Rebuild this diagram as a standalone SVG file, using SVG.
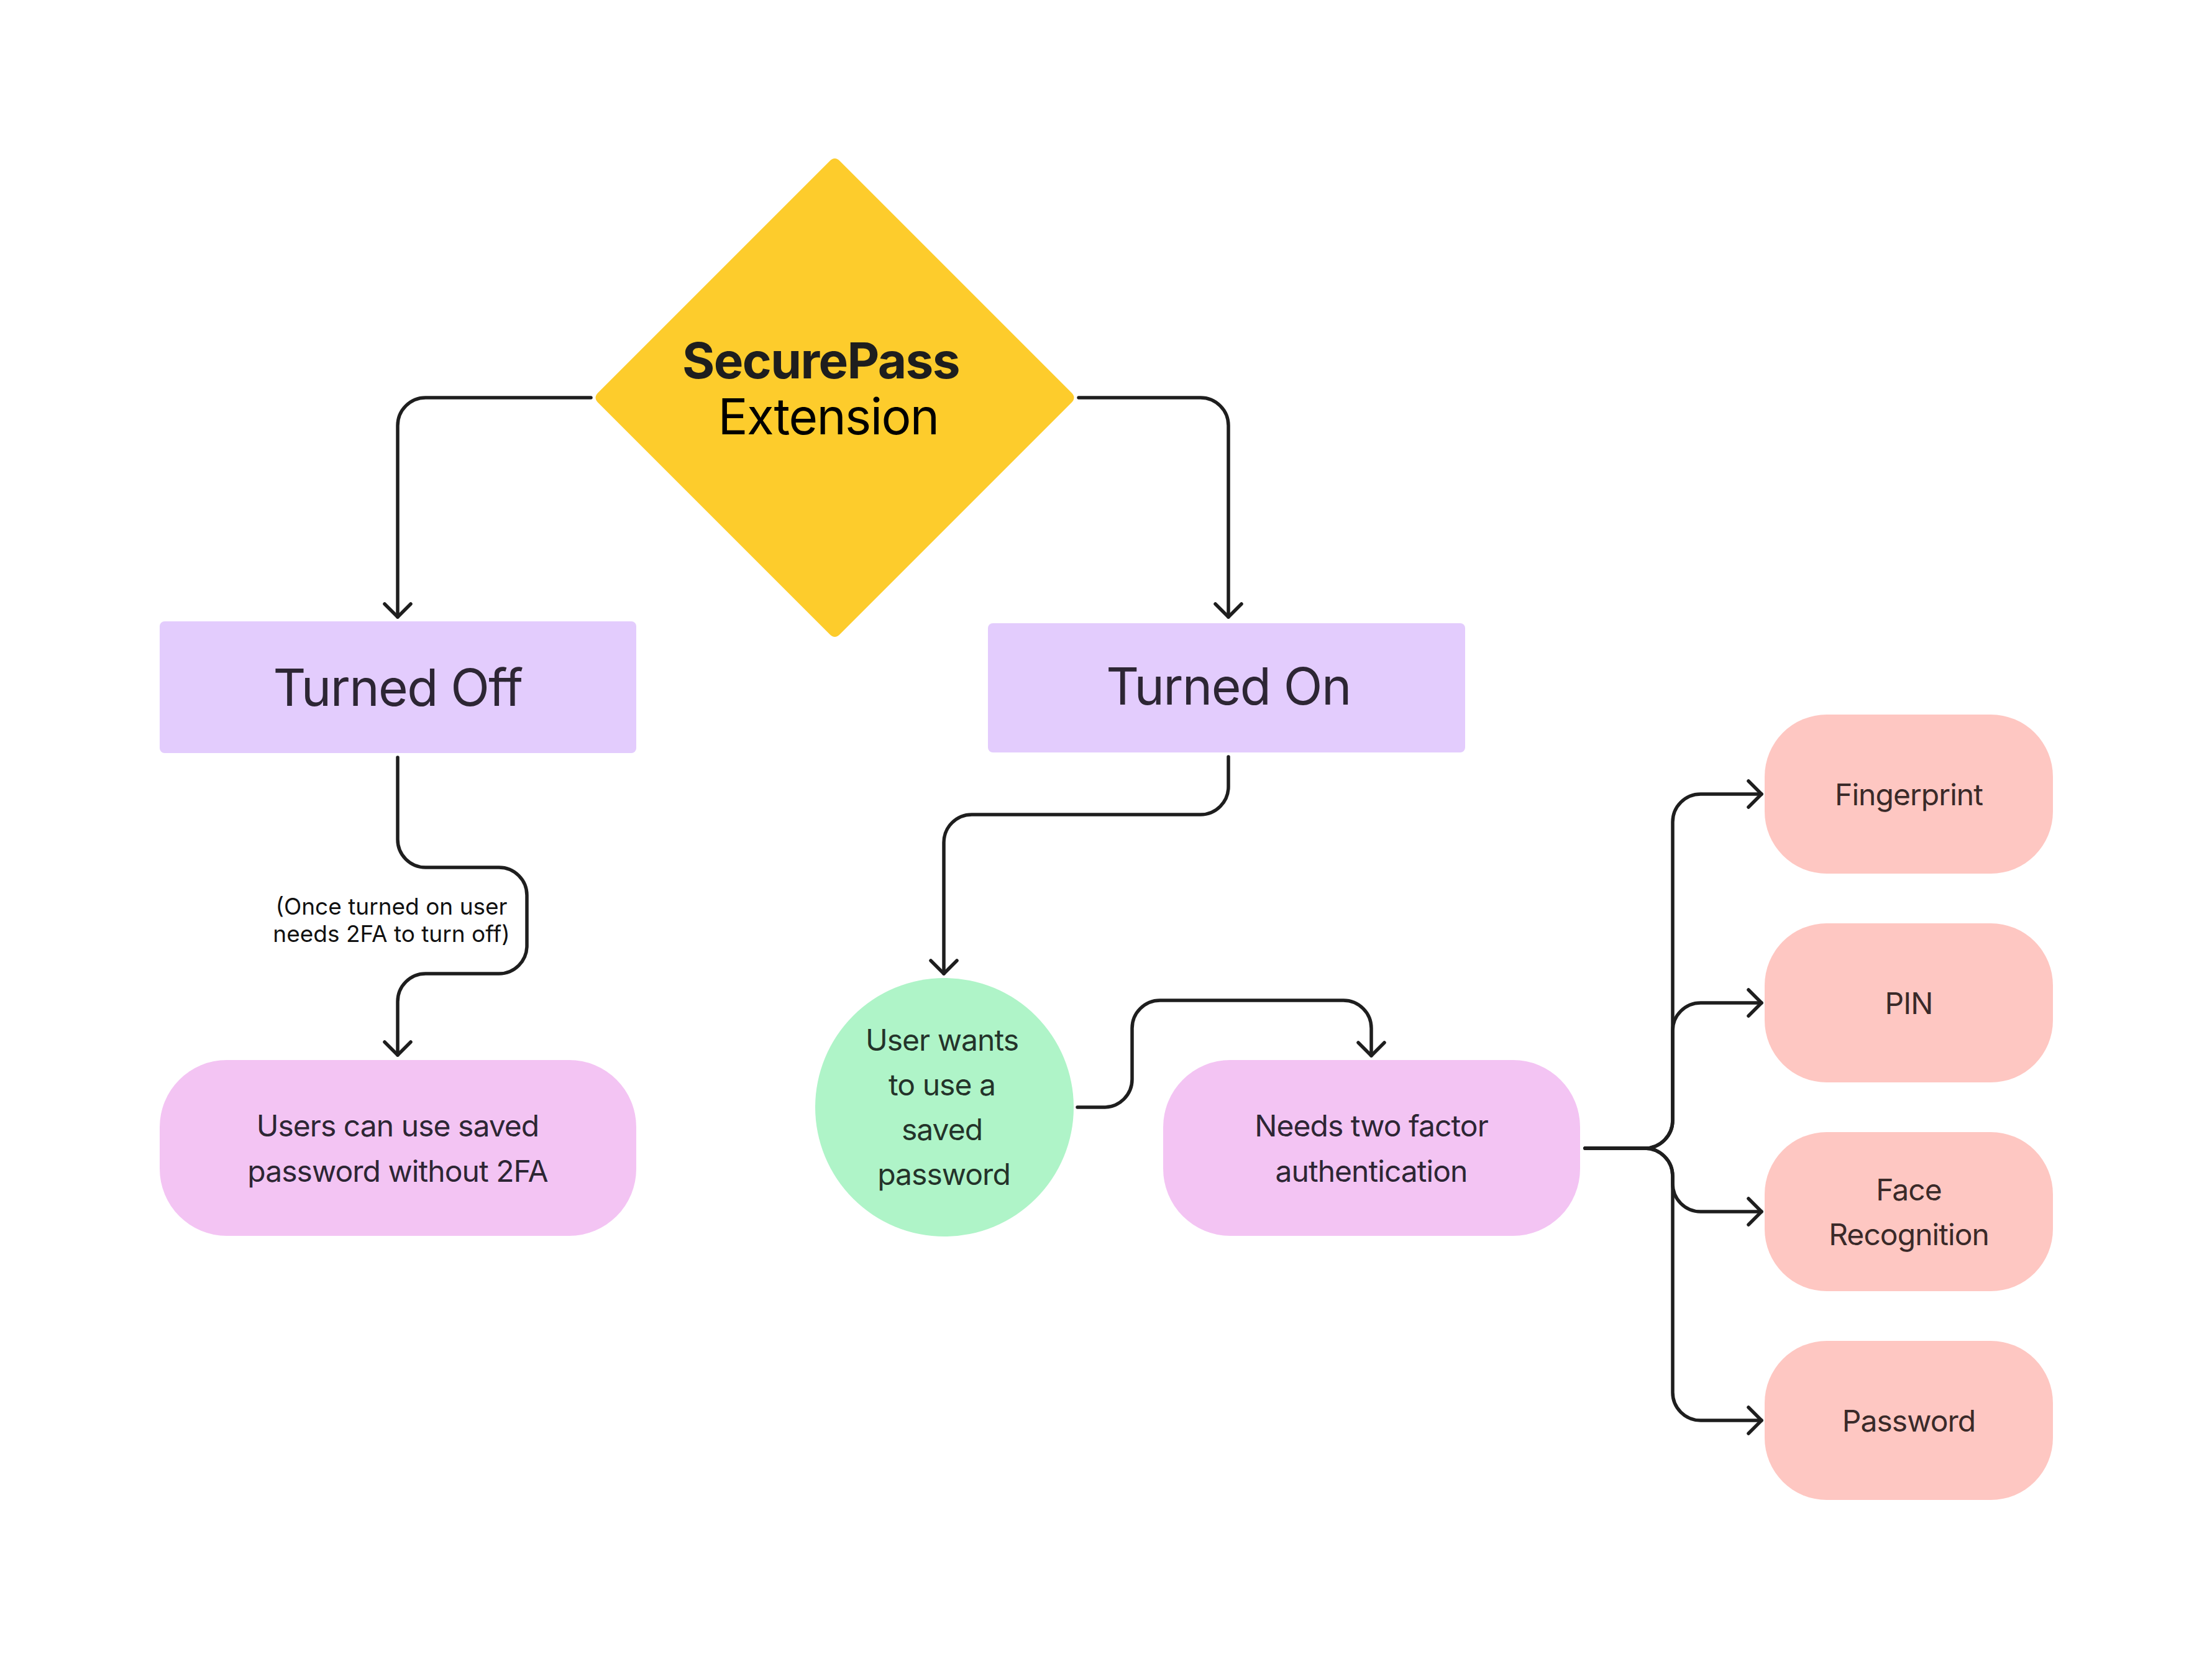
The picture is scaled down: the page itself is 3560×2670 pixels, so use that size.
<svg xmlns="http://www.w3.org/2000/svg" width="3560" height="2670" viewBox="0 0 3560 2670">
<style>
.conn{fill:none;stroke:#1e1e1e;stroke-width:5.5;stroke-linecap:round;stroke-linejoin:round}
.t{font-family:Inter,"Noto Sans","Liberation Sans",sans-serif;text-anchor:middle;letter-spacing:-0.02em}
.big{font-size:82px;fill:#2d2634}
.mid{font-size:48px}
.lbl{font-size:37px;fill:#111111;letter-spacing:0}
</style>
<defs>
<marker id="arr" markerUnits="userSpaceOnUse" viewBox="-30 -30 60 60" markerWidth="60" markerHeight="60" refX="0" refY="0" orient="auto">
<path d="M-21,-21 L0,0 L-21,21" fill="none" stroke="#1e1e1e" stroke-width="5.5" stroke-linecap="round" stroke-linejoin="round"/>
</marker>
</defs>
<rect width="3560" height="2670" fill="#ffffff"/>

<g id="connectors">
<path class="conn" marker-end="url(#arr)" d="M951,640 H685 A45,45 0 0 0 640,685 V993"/>
<path class="conn" marker-end="url(#arr)" d="M1736,640 H1932 A45,45 0 0 1 1977,685 V993"/>
<path class="conn" marker-end="url(#arr)" d="M640,1219 V1351 A45,45 0 0 0 685,1396 H803 A45,45 0 0 1 848,1441 V1522 A45,45 0 0 1 803,1567 H685 A45,45 0 0 0 640,1612 V1698"/>
<path class="conn" marker-end="url(#arr)" d="M1977,1218 V1266 A45,45 0 0 1 1932,1311 H1564 A45,45 0 0 0 1519,1356 V1567"/>
<path class="conn" marker-end="url(#arr)" d="M1734,1782 H1777 A45,45 0 0 0 1822,1737 V1655 A45,45 0 0 1 1867,1610 H2162 A45,45 0 0 1 2207,1655 V1699"/>
<path class="conn" marker-end="url(#arr)" d="M2551,1848 H2647 A45,45 0 0 0 2692,1803 V1323 A45,45 0 0 1 2737,1278 H2835"/>
<path class="conn" marker-end="url(#arr)" d="M2551,1848 H2647 A45,45 0 0 0 2692,1803 V1659 A45,45 0 0 1 2737,1614 H2835"/>
<path class="conn" marker-end="url(#arr)" d="M2551,1848 H2647 A45,45 0 0 1 2692,1893 V1905 A45,45 0 0 0 2737,1950 H2835"/>
<path class="conn" marker-end="url(#arr)" d="M2551,1848 H2647 A45,45 0 0 1 2692,1893 V2241 A45,45 0 0 0 2737,2286 H2835"/>
<text class="t lbl" x="630" y="1472">(Once turned on user</text>
<text class="t lbl" x="630" y="1516">needs 2FA to turn off)</text>
</g>

<g id="securepass">
<path d="M1335.5,259 Q1343.5,251 1351.5,259 L1724.5,632 Q1732.5,640 1724.5,648 L1351.5,1021 Q1343.5,1029 1335.5,1021 L962.5,648 Q954.5,640 962.5,632 Z" fill="#fdcc2c"/>
<text class="t" x="1321" y="609" font-size="80" font-weight="700" fill="#1e1e1e">SecurePass</text>
<text class="t" x="1333" y="699" font-size="80" fill="#000000">Extension</text>
</g>

<g id="turned-off">
<rect x="257" y="1000" width="767" height="212" rx="8" fill="#e3ccfd"/>
<text class="t big" x="640" y="1136">Turned Off</text>
</g>

<g id="turned-on">
<rect x="1590" y="1003" width="768" height="208" rx="8" fill="#e3ccfd"/>
<text class="t big" x="1977" y="1134">Turned On</text>
</g>

<g id="users-can-use">
<rect x="257" y="1706" width="767" height="283" rx="108" fill="#f3c4f3"/>
<text class="t mid" x="640" y="1829" fill="#2d2634">Users can use saved</text>
<text class="t mid" x="640" y="1902" fill="#2d2634">password without 2FA</text>
</g>

<g id="user-wants">
<circle cx="1520" cy="1782" r="208" fill="#aff4c8"/>
<text class="t mid" x="1516" y="1691" fill="#24332a">User wants</text>
<text class="t mid" x="1516" y="1763" fill="#24332a">to use a</text>
<text class="t mid" x="1516" y="1835" fill="#24332a">saved</text>
<text class="t mid" x="1519" y="1907" fill="#24332a">password</text>
</g>

<g id="needs-2fa">
<rect x="1872" y="1706" width="671" height="283" rx="108" fill="#f3c4f3"/>
<text class="t mid" x="2207" y="1829" fill="#2d2634">Needs two factor</text>
<text class="t mid" x="2207" y="1902" fill="#2d2634">authentication</text>
</g>

<g id="fingerprint">
<rect x="2840" y="1150" width="464" height="256" rx="100" fill="#fec7c2"/>
<text class="t mid" x="3072" y="1296" fill="#3a2a29">Fingerprint</text>
</g>

<g id="pin">
<rect x="2840" y="1486" width="464" height="256" rx="100" fill="#fec7c2"/>
<text class="t mid" x="3072" y="1632" fill="#3a2a29">PIN</text>
</g>

<g id="face-recognition">
<rect x="2840" y="1822" width="464" height="256" rx="100" fill="#fec7c2"/>
<text class="t mid" x="3072" y="1932" fill="#3a2a29">Face</text>
<text class="t mid" x="3072" y="2004" fill="#3a2a29">Recognition</text>
</g>

<g id="password">
<rect x="2840" y="2158" width="464" height="256" rx="100" fill="#fec7c2"/>
<text class="t mid" x="3072" y="2304" fill="#3a2a29">Password</text>
</g>
</svg>
